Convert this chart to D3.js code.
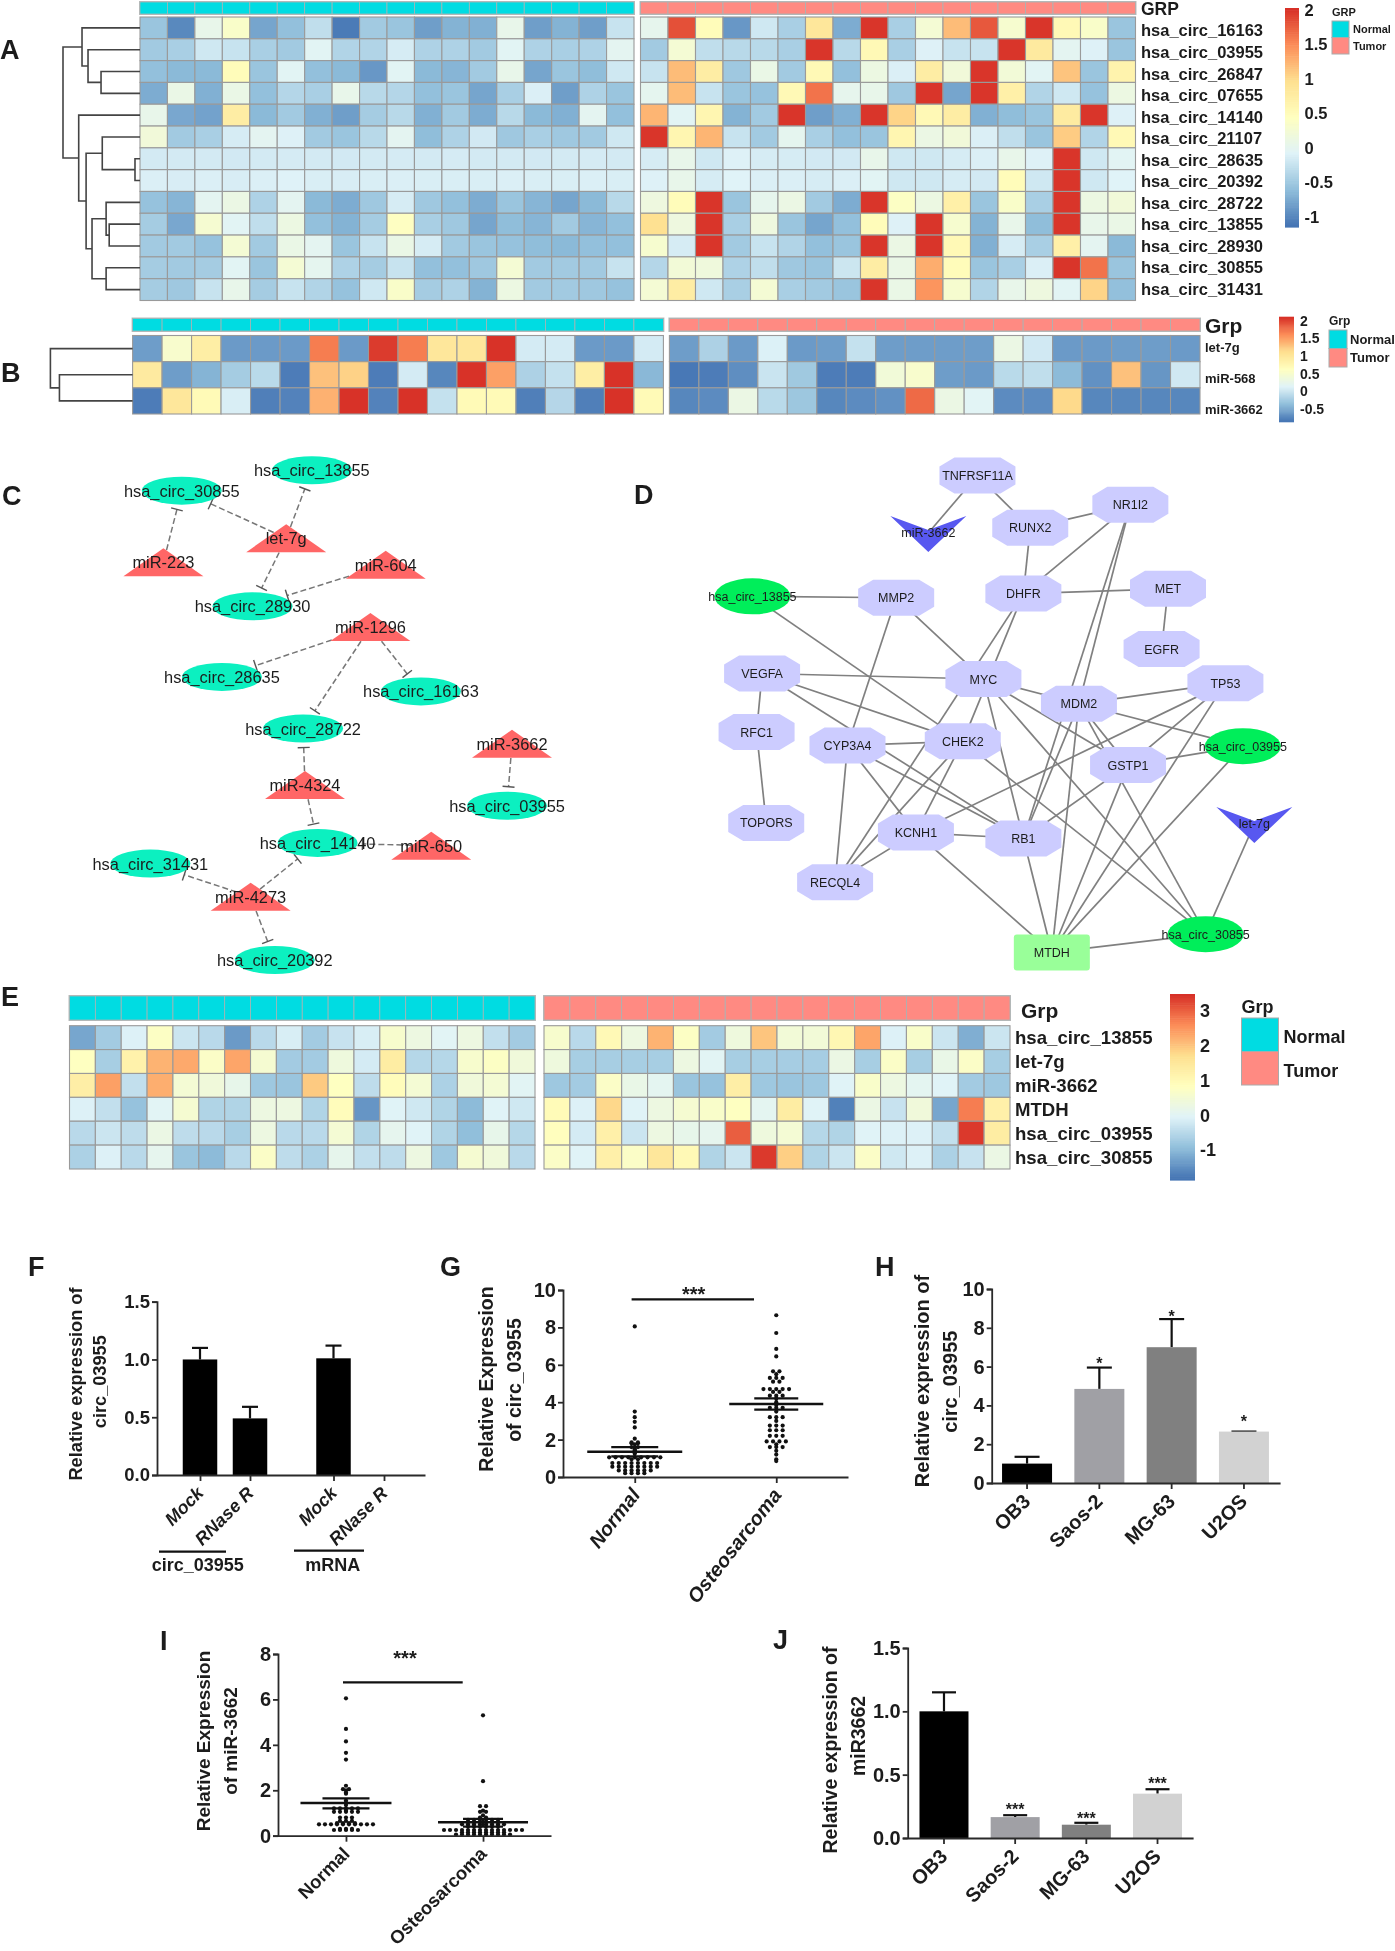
<!DOCTYPE html>
<html><head><meta charset="utf-8">
<script src="https://cdn.jsdelivr.net/npm/d3@7"></script>
<style>
html,body{margin:0;padding:0;background:#fff}
svg{position:absolute;left:0;top:0;filter:blur(0.6px)}
text{font-family:"Liberation Sans",Arial,sans-serif;fill:#1c1c1c}
</style></head><body>
<svg id="c" width="1395" height="1951" viewBox="0 0 1395 1951"></svg>
<script>
/* ---------- Panel A ---------- */
const aRows=["hsa_circ_16163","hsa_circ_03955","hsa_circ_26847","hsa_circ_07655","hsa_circ_14140","hsa_circ_21107","hsa_circ_28635","hsa_circ_20392","hsa_circ_28722","hsa_circ_13855","hsa_circ_28930","hsa_circ_30855","hsa_circ_31431"];
const aNormal=[
[-.55,-1.0,.05,.35,-.8,-.6,-.3,-1.1,-.5,-.55,-.85,-.7,-.72,.05,-.85,-.7,-.85,-.25],
[-.5,-.45,-.2,-.25,-.45,-.5,-.05,-.4,-.4,-.15,-.42,-.42,-.5,-.05,-.42,-.45,-.42,-.02],
[-.6,-.65,-.65,.5,-.55,-.05,-.6,-.65,-.9,-.05,-.65,-.68,-.5,.05,-.8,-.55,-.62,-.2],
[-.75,.08,-.72,.08,-.6,-.38,-.45,.05,-.35,-.38,-.6,-.55,-.8,-.45,-.12,-.85,-.42,-.55],
[.05,-.78,-.82,.75,-.65,-.5,-.72,-.85,-.48,-.35,-.72,-.5,-.75,-.35,-.65,-.72,-.02,-.6],
[.2,-.5,-.45,-.15,-.02,-.1,-.5,-.55,-.35,-.02,-.62,-.42,-.18,-.52,-.45,-.52,-.5,-.2],
[-.17,-.17,-.17,-.18,-.17,-.16,-.17,-.18,-.17,-.16,-.17,-.16,-.17,-.17,-.18,-.17,-.16,-.17],
[-.12,-.14,-.12,-.14,-.12,-.09,-.13,-.14,-.13,-.12,-.13,-.13,-.13,-.12,-.13,-.13,-.12,-.13],
[-.58,-.68,-.02,.1,-.42,-.02,-.65,-.75,-.52,-.15,-.52,-.6,-.75,-.55,-.68,-.8,-.65,-.35],
[-.48,-.78,.28,-.05,-.3,.12,-.6,-.7,-.48,.42,-.45,-.52,-.8,-.62,-.68,-.5,-.68,-.6],
[-.5,-.5,-.58,.25,-.5,.08,-.02,-.55,-.25,.08,-.15,-.5,-.55,-.58,-.62,-.65,-.6,-.6],
[-.48,-.5,-.48,-.05,-.55,.25,0,-.42,-.48,-.25,-.6,-.6,-.52,.25,-.5,-.5,-.5,-.25],
[-.48,-.52,-.25,.05,-.48,-.25,-.4,-.58,-.2,.35,-.48,-.42,-.7,.12,-.5,-.5,-.52,-.58]];
const aTumor=[
[.02,1.85,.5,-.9,-.2,-.45,.85,-.75,2,-.45,.25,1.2,1.8,.3,2,.55,.35,-.55],
[-.5,.25,-.3,-.35,-.35,-.45,2,-.35,.55,-.45,-.1,-.25,-.25,2,.8,-.02,-.1,-.55],
[-.25,1.2,.75,-.52,.08,-.5,.55,-.6,.12,-.12,.75,.2,2,.22,-.05,1.15,-.55,.65],
[0,1.2,-.25,-.55,-.58,.55,1.65,.02,.05,-.52,2,-.8,2,.7,-.4,-.2,-.58,.12],
[1.25,-.05,.6,-.7,-.5,2,-.85,-.72,2,1.05,.55,.75,-.72,-.62,-.55,.78,2,-.1],
[2,.6,1.25,-.25,-.5,0,-.45,-.6,-.55,.6,.1,.2,-.12,-.3,-.55,1.1,-.4,.55],
[-.15,.05,-.2,-.1,-.15,-.15,-.18,-.18,.05,-.2,-.2,-.15,-.12,.05,-.1,2,-.2,-.05],
[-.1,.05,-.15,-.08,-.12,-.12,-.15,-.12,-.05,-.2,-.2,-.15,-.18,.5,-.2,2,-.2,-.08],
[.15,.5,2,-.55,.02,.1,-.5,-.75,2,.4,.12,.7,-.55,.35,-.45,2,.12,.2],
[.95,.15,2,-.45,.15,-.55,-.8,-.6,.5,-.1,2,.3,-.7,.05,-.62,2,.05,.08],
[.3,-.15,2,-.5,-.25,-.4,-.6,-.55,2,.1,2,.55,-.72,-.15,-.45,.7,-.02,-.65],
[-.38,.22,.18,-.42,-.3,-.52,-.55,-.22,.75,.08,1.3,.5,-.55,-.45,-.12,2,1.65,-.55],
[.25,.75,-.2,-.45,.25,-.45,-.5,-.55,2,.08,1.45,.3,-.4,.05,.15,-.05,1.05,-.6]];
const aTicks=[2,1.5,1,.5,0,-.5,-1];
/* dendrogram: [height,left,right]; a leaf is a row index */
const aDendro=[1,[.753,0,[.675,1,[.506,2,3]]],[.796,4,[.70,[.49,5,[.065,6,7]],[.623,[.44,8,[.40,9,10]],[.44,11,12]]]]];

/* ---------- Panel B ---------- */
const bRows=["let-7g","miR-568","miR-3662"];
const bNormal=[
[-.6,.5,.9,-.62,-.62,-.62,1.7,-.62,2.05,1.7,1,1,2.1,.05,.05,-.62,-.62,.05],
[.95,-.6,-.45,-.25,-.12,-.82,1.3,1.2,-.82,.05,-.75,2.1,1.5,-.2,-.05,.9,2.1,-.42],
[-.82,1,.7,.08,-.8,-.78,1.4,2.1,-.78,2.1,-.05,.7,.7,-.8,-.15,-.8,2.1,.7]];
const bTumor=[
[-.6,-.2,-.62,.1,-.62,-.6,-.05,-.6,-.6,-.6,-.6,.3,.03,-.62,-.62,-.6,-.6,-.62],
[-.85,-.82,-.7,-.02,-.28,-.82,-.82,.4,.5,-.6,-.62,-.12,-.08,-.4,-.68,1.3,-.65,.02],
[-.75,-.72,.3,-.12,-.3,-.75,-.72,-.68,1.8,.3,.15,-.72,-.72,1.15,-.75,-.75,-.75,-.75]];
const bTicks=[2,1.5,1,.5,0,-.5];
const bDendro=[1,0,[.89,1,2]];

/* ---------- Panel E ---------- */
const eRows=["hsa_circ_13855","let-7g","miR-3662","MTDH","hsa_circ_03955","hsa_circ_30855"];
const eNormal=[
[-1.25,-.75,-.1,.75,-.3,-.5,-1.4,-.5,-.15,-.75,-.35,-.15,.6,.3,-.02,.3,-.4,-.75],
[.8,-.7,1.2,2.2,2.3,.7,2.35,.55,-.75,-.75,.35,-.2,1.35,-.55,-.55,.6,.75,.4],
[1.3,2.4,-.4,2.25,.5,.4,.15,-.8,-.85,1.95,.8,-.45,.9,.5,-.65,.4,.5,0],
[-.1,-.4,-.9,-.02,.55,-.6,-.6,.3,.3,-.6,.9,-1.45,-.05,-.25,-.6,-1,-.05,-.25],
[-.5,-.3,-.45,.25,-.45,-.5,-.7,.3,-.5,-.5,.5,-.6,.1,-.05,-.6,-.95,.15,-.55],
[-.65,-.1,-.5,.1,-.85,-1,-.5,.7,-.45,-.65,.12,-.4,-.45,.3,-.8,.55,.4,-.5]];
const eTumor=[
[.6,-.5,1,.3,2.2,.75,-.75,.35,2,.45,.45,1.05,2.35,-.1,.65,-.3,-1.15,-.3],
[.35,-.7,-.7,-.7,-.7,.3,0,-.7,-.7,-.72,-.72,.25,-.7,.7,-.7,.2,.7,-.7],
[-.8,-.75,.7,.2,.05,-.85,-.9,1.3,-.8,-.85,-.8,-.05,.65,.3,.05,-.05,-.75,-.8],
[.95,-.1,1.8,-.05,.3,.55,.65,.8,.05,1.35,-.05,-1.7,.25,-.35,.4,-1.25,2.75,1.25],
[.85,-.2,1.25,-.3,.3,.15,.1,3.05,.35,.5,-.55,-.6,-.05,-.1,-.1,-.4,3.4,1.35],
[.7,-.05,1.25,.7,1.5,1,-.6,-.3,3.4,1.9,-.6,-.3,.7,-.25,-.1,-.65,-.35,.25]];
const eTicks=[3,2,1,0,-1];

const groupNames=["Normal","Tumor"];

/* ---------- Panel C network ---------- */
const cEllipses=["hsa_circ_30855","hsa_circ_13855","hsa_circ_28930","hsa_circ_28635","hsa_circ_16163","hsa_circ_28722","hsa_circ_03955","hsa_circ_14140","hsa_circ_31431","hsa_circ_20392"];
const cEllipseX=[475,815,660,580,1100,792,1325,830,393,718];
const cEllipseY=[147,88,483,688,730,838,1062,1170,1230,1510];
const cTriangles=["let-7g","miR-223","miR-604","miR-1296","miR-3662","miR-4324","miR-650","miR-4273"];
const cTriangleX=[748,427,1008,968,1338,797,1127,655];
const cTriangleY=[285,355,362,543,882,1002,1178,1326];
const cEdges=[["miR-223","hsa_circ_30855"],["let-7g","hsa_circ_30855"],["let-7g","hsa_circ_13855"],["let-7g","hsa_circ_28930"],["miR-604","hsa_circ_28930"],["miR-1296","hsa_circ_28635"],["miR-1296","hsa_circ_16163"],["miR-1296","hsa_circ_28722"],["miR-4324","hsa_circ_28722"],["miR-4324","hsa_circ_14140"],["miR-3662","hsa_circ_03955"],["miR-650","hsa_circ_14140"],["miR-4273","hsa_circ_14140"],["miR-4273","hsa_circ_31431"],["miR-4273","hsa_circ_20392"]];

/* ---------- Panel D network ---------- */
const dOctagons=["TNFRSF11A","NR1I2","RUNX2","MET","DHFR","MMP2","EGFR","VEGFA","MYC","TP53","MDM2","RFC1","CHEK2","CYP3A4","GSTP1","TOPORS","KCNH1","RB1","RECQL4"];
const dOctagonX=[822,1155,937,1237,922,645,1223,353,835,1362,1043,341,790,539,1150,362,688,922,512];
const dOctagonY=[103,188,255,432,446,458,607,678,694,706,766,848,875,887,944,1112,1140,1157,1284];
const dCircs=["hsa_circ_13855","hsa_circ_03955","hsa_circ_30855"];
const dCircX=[332,1400,1319];
const dCircY=[454,889,1435];
const dMirs=["miR-3662","let-7g"];
const dMirX=[715,1425];
const dMirY=[270,1115];
const dHub=["MTDH"];
const dHubX=[984];
const dHubY=[1488];
const dEdges=[["TNFRSF11A","miR-3662"],["TNFRSF11A","RUNX2"],["RUNX2","NR1I2"],["RUNX2","DHFR"],["NR1I2","DHFR"],["NR1I2","RB1"],["NR1I2","MDM2"],["DHFR","MET"],["MET","EGFR"],["DHFR","RECQL4"],["DHFR","CHEK2"],["MMP2","hsa_circ_13855"],["MMP2","MYC"],["MMP2","CYP3A4"],["hsa_circ_13855","CHEK2"],["VEGFA","MYC"],["VEGFA","CHEK2"],["VEGFA","RB1"],["VEGFA","RFC1"],["RFC1","TOPORS"],["CYP3A4","CHEK2"],["CYP3A4","KCNH1"],["CYP3A4","RB1"],["CYP3A4","RECQL4"],["CHEK2","RECQL4"],["CHEK2","KCNH1"],["CHEK2","hsa_circ_30855"],["MYC","RB1"],["MYC","MDM2"],["MYC","GSTP1"],["MYC","hsa_circ_30855"],["MDM2","TP53"],["MDM2","GSTP1"],["MDM2","hsa_circ_03955"],["MDM2","MTDH"],["MDM2","RB1"],["MDM2","hsa_circ_30855"],["TP53","GSTP1"],["TP53","KCNH1"],["TP53","MTDH"],["GSTP1","hsa_circ_03955"],["GSTP1","RB1"],["GSTP1","MTDH"],["hsa_circ_03955","MTDH"],["KCNH1","RB1"],["KCNH1","MTDH"],["KCNH1","RECQL4"],["RB1","MTDH"],["MTDH","hsa_circ_30855"],["let-7g","hsa_circ_30855"]];

/* ---------- Panel F ---------- */
const fLabels=["Mock","RNase R","Mock","RNase R"];
const fSlots=[0,1,2.67,3.68];
const fValues=[1.0,.49,1.01,0];
const fUpper=[1.1,.59,1.12,0];
const fTicks=[0,.5,1,1.5];

/* ---------- Panel G ---------- */
const gGroups=["Normal","Osteosarcoma"];
const gNormal=[8.05,3.5,3.2,2.95,2.65,2.05,1.85,1.85,1.8,1.8,1.75,1.6,1.6,1.5,1.45,1.4,1.35,1.3,1.25,1.05,1.05,1.05,1.05,1.05,1.05,1.05,1.05,1.05,.95,.95,.75,.75,.75,.75,.75,.75,.75,.75,.55,.55,.55,.55,.55,.55,.55,.55,.35,.35,.35,.35,.35,.35,.2,.2,.2,.2];
const gTumor=[8.65,7.7,6.85,6.45,5.65,5.65,5.5,5.3,5.3,5.3,5.1,5.1,4.7,4.7,4.7,4.7,4.7,4.55,4.55,4.35,4.35,4.35,4.2,4,3.85,3.7,3.7,3.7,3.5,3.2,3.2,3.2,3,2.75,2.75,2.75,2.5,2.5,2.5,2.2,2.2,2.2,1.9,1.9,1.9,1.9,1.75,1.6,1.6,1.6,1.4,1.2,.95,.85];
const gMean=[1.35,3.9], gSemHi=[1.6,4.2], gSemLo=[1.1,3.6];
const gTicks=[0,2,4,6,8,10];

/* ---------- Panel H ---------- */
const hCells=["OB3","Saos-2","MG-63","U2OS"];
const hValues=[1.0,4.85,7.0,2.65];
const hUpper=[1.35,5.95,8.45,2.65];
const hStars=["","*","*","*"];
const hStarAt=[0,6.33,8.75,3.33];
const hTicks=[0,2,4,6,8,10];

/* ---------- Panel I ---------- */
const iNormal=[6.05,4.7,4.15,3.65,3.35,2.2,2.05,2.05,2,1.9,1.85,1.55,1.45,1.35,1.2,1.2,1.2,1.2,1.2,1.1,1.05,1.05,1.05,1.05,1.05,.8,.8,.8,.65,.65,.65,.55,.55,.55,.55,.5,.5,.5,.5,.5,.5,.5,.5,.5,.5,.3,.3,.3,.25,.25,.25,.25,.25];
const iTumor=[5.3,2.4,1.3,1.3,1.1,1.05,1.05,.9,.8,.8,.7,.7,.7,.7,.7,.7,.6,.6,.6,.6,.6,.6,.5,.5,.5,.5,.5,.5,.5,.5,.4,.4,.4,.4,.4,.4,.25,.25,.25,.25,.25,.25,.25,.25,.25,.25,.25,.25,.25,.25,.15,.15,.15,.15,.15,.15,.15,.15,.05,.05,.05,.05,.05,.05,.05,.05,.05,.05];
const iMean=[1.44,.59], iSemHi=[1.64,.74], iSemLo=[1.2,.4];
const iTicks=[0,2,4,6,8];

/* ---------- Panel J ---------- */
const jValues=[1.0,.165,.105,.35];
const jUpper=[1.15,.18,.12,.385];
const jStars=["","***","***","***"];
const jStarAt=[0,.25,.18,.46];
const jTicks=[0,.5,1,1.5];

/* ---------- Panel letters ---------- */
const letters=["A","B","C","D","E","F","G","H","I","J"];
const letterX=[0,1,2,634,1,28,440,875,160,773];
const letterY=[59,382,505,504,1006,1276,1276,1276,1650,1649];

/* ========== drawing ========== */
const svg=d3.select("#c");
const PAL=["#4575B4","#91BFDB","#E0F3F8","#FFFFBF","#FEE090","#FC8D59","#D73027"];
const rampOf=(lo,hi)=>d3.scaleLinear().domain(d3.range(7).map(i=>lo+i*(hi-lo)/6)).range(PAL).clamp(true);
const CY="#00DCE2", PK="#FF8A82";

function heat(o){
  const g=svg.append("g");
  [[o.normal,o.xN,CY],[o.tumor,o.xT,PK]].forEach(([mat,xr,ann])=>{
    const x=d3.scaleBand().domain(d3.range(18)).range(xr);
    const y=d3.scaleBand().domain(o.rows).range(o.yH);
    g.append("rect").attr("x",xr[0]-1).attr("y",o.yA[0]-1).attr("width",xr[1]-xr[0]+2).attr("height",o.yA[1]-o.yA[0]+2).attr("fill","#bbb");
    g.selectAll(null).data(d3.range(18)).join("rect")
      .attr("x",d=>x(d)).attr("y",o.yA[0]).attr("width",x.bandwidth()).attr("height",o.yA[1]-o.yA[0])
      .attr("fill",ann).attr("stroke","#a9b4b4").attr("stroke-width",.8);
    mat.forEach((row,r)=>{
      g.selectAll(null).data(row).join("rect")
        .attr("x",(d,i)=>x(i)).attr("y",y(o.rows[r])).attr("width",x.bandwidth()).attr("height",y.bandwidth())
        .attr("fill",d=>o.color(d)).attr("stroke","#9a9a9a").attr("stroke-width",1.1);
    });
  });
}
function rowLabels(rows,x,yr,fs){
  const y=d3.scalePoint().domain(rows).range(yr);
  svg.append("g").selectAll("text").data(rows).join("text")
    .attr("x",x).attr("y",d=>y(d)).attr("dy",".36em").attr("font-size",fs).attr("font-weight",700).text(d=>d);
}
function colorBar(o){
  const y=d3.scaleLinear().domain(o.tickRef).range(o.tickPx);
  const top=y.invert(o.yr[0]), bot=y.invert(o.yr[1]);
  const steps=d3.range(100);
  const yb=d3.scaleBand().domain(steps).range(o.yr);
  svg.append("g").selectAll("rect").data(steps).join("rect")
    .attr("x",o.x[0]).attr("width",o.x[1]-o.x[0]).attr("y",d=>yb(d)).attr("height",yb.bandwidth()+.6)
    .attr("fill",d=>o.color(top+(bot-top)*d/99));
  svg.append("g").selectAll("text").data(o.ticks).join("text")
    .attr("x",o.tx).attr("y",d=>y(d)).attr("dy",".36em").attr("font-size",o.fs).attr("font-weight",700).text(d=>d);
}
function legend(o){
  svg.append("text").attr("x",o.x[0]).attr("y",o.titleY).attr("dy",".36em").attr("font-size",o.tfs).attr("font-weight",700).text(o.title);
  const y=d3.scaleBand().domain(groupNames).range(o.y);
  svg.append("g").selectAll("rect").data(groupNames).join("rect")
    .attr("x",o.x[0]).attr("width",o.x[1]-o.x[0]).attr("y",d=>y(d)).attr("height",y.bandwidth())
    .attr("fill",(d,i)=>i?PK:CY).attr("stroke","#aaa").attr("stroke-width",1);
  svg.append("g").selectAll("text").data(groupNames).join("text")
    .attr("x",o.x[1]+o.pad).attr("y",d=>y(d)+y.bandwidth()/2+(o.lift||0)).attr("dy",".36em").attr("font-size",o.fs).attr("font-weight",700).text(d=>d);
}
function dendro(tree,rowY,xScale){
  let d="";
  function walk(n){
    if(typeof n==="number") return {y:rowY(n),x:xScale(0)};
    const a=walk(n[1]), b=walk(n[2]), x=xScale(n[0]), y=(a.y+b.y)/2;
    d+=`M${a.x},${a.y}H${x}V${b.y}H${b.x}`;
    return {x,y};
  }
  walk(tree);
  svg.append("path").attr("d",d).attr("fill","none").attr("stroke","#444").attr("stroke-width",1.6);
}

/* A */
const aColor=rampOf(-1.14,2.03);
const AYH=[17,300.5];
heat({rows:aRows,normal:aNormal,tumor:aTumor,xN:[140,634],xT:[640.5,1135.5],yA:[2,14],yH:AYH,color:aColor});
{const y=d3.scaleBand().domain(d3.range(13)).range(AYH);
 dendro(aDendro,i=>y(i)+y.bandwidth()/2,d3.scaleLinear([0,1],[140,63]));}
rowLabels(aRows,1141,[30.5,289],16.5);
svg.append("text").attr("x",1141).attr("y",9).attr("dy",".36em").attr("font-size",17.5).attr("font-weight",700).text("GRP");
colorBar({x:[1285,1299],yr:[8,227],tickRef:[2,-1],tickPx:[10,217],ticks:aTicks,tx:1304.5,fs:16.5,color:aColor});
legend({title:"GRP",tfs:11,titleY:12,x:[1332,1349],y:[21,54],pad:4,fs:11});

/* B */
const bColor=rampOf(-.87,2.11);
const BYH=[335.5,414];
heat({rows:bRows,normal:bNormal,tumor:bTumor,xN:[132.6,663.4],xT:[669.4,1200],yA:[318.5,331],yH:BYH,color:bColor});
{const y=d3.scaleBand().domain(d3.range(3)).range(BYH);
 dendro(bDendro,i=>y(i)+y.bandwidth()/2,d3.scaleLinear([0,1],[132.6,50.4]));}
rowLabels(bRows,1205,[347,409],13);
svg.append("text").attr("x",1205).attr("y",325).attr("dy",".36em").attr("font-size",21).attr("font-weight",700).text("Grp");
colorBar({x:[1279,1294],yr:[316.7,421.7],tickRef:[2,-.5],tickPx:[320.7,409],ticks:bTicks,tx:1300,fs:14,color:bColor});
legend({title:"Grp",tfs:12,titleY:321,x:[1329,1347],y:[330,367],pad:3,fs:13});

/* E */
const eColor=rampOf(-1.84,3.49);
heat({rows:eRows,normal:eNormal,tumor:eTumor,xN:[69.5,535],xT:[544,1010],yA:[996,1020],yH:[1025.7,1169],color:eColor});
rowLabels(eRows,1015,[1037,1157],18.6);
svg.append("text").attr("x",1021).attr("y",1010).attr("dy",".36em").attr("font-size",21).attr("font-weight",700).text("Grp");
colorBar({x:[1170,1195],yr:[994,1180],tickRef:[3,-1],tickPx:[1011,1150],ticks:eTicks,tx:1200,fs:18,color:eColor});
legend({title:"Grp",tfs:18,titleY:1007,x:[1241.5,1278.5],y:[1018,1085],pad:5,fs:18,lift:2});

/* C */
{
  const X=d3.scaleLinear([0,1568],[0,600]), Y=d3.scaleLinear([0,1568],[440,980]);
  const pos={};
  cEllipses.forEach((n,i)=>pos[n]={x:X(cEllipseX[i]),y:Y(cEllipseY[i])});
  cTriangles.forEach((n,i)=>pos[n]={x:X(cTriangleX[i]),y:Y(cTriangleY[i])});
  const RX=40,RY=14,HW=40,HH=14;
  const inTri=(p,c)=>{const t=c.y-HH,b=c.y+HH;return p.y>=t&&p.y<=b&&Math.abs(p.x-c.x)<=HW*(p.y-t)/(b-t);};
  const segs=cEdges.map(([s,t])=>{
    const S=pos[s],T=pos[t],dx=T.x-S.x,dy=T.y-S.y,L=Math.hypot(dx,dy);
    const f=1/Math.hypot(dx/RX,dy/RY);
    const k=1-f-5/L; let u=0;
    while(u<1&&inTri({x:S.x+dx*u,y:S.y+dy*u},S))u+=.005;
    return {x1:S.x+dx*u,y1:S.y+dy*u,x2:S.x+dx*k,y2:S.y+dy*k,nx:-dy/L,ny:dx/L};
  });
  const g=svg.append("g");
  g.selectAll("line.e").data(segs).join("line").attr("class","e")
    .attr("x1",d=>d.x1).attr("y1",d=>d.y1).attr("x2",d=>d.x2).attr("y2",d=>d.y2)
    .attr("stroke","#777").attr("stroke-width",1.5).attr("stroke-dasharray","6 3");
  g.selectAll("line.b").data(segs).join("line").attr("class","b")
    .attr("x1",d=>d.x2-d.nx*6).attr("y1",d=>d.y2-d.ny*6).attr("x2",d=>d.x2+d.nx*6).attr("y2",d=>d.y2+d.ny*6)
    .attr("stroke","#555").attr("stroke-width",1.4);
  g.selectAll("polygon").data(cTriangles).join("polygon")
    .attr("points",n=>{const c=pos[n];return [[c.x,c.y-HH],[c.x+HW,c.y+HH],[c.x-HW,c.y+HH]].join(" ");})
    .attr("fill","#FF6666");
  g.selectAll("ellipse").data(cEllipses).join("ellipse")
    .attr("cx",n=>pos[n].x).attr("cy",n=>pos[n].y).attr("rx",RX).attr("ry",RY).attr("fill","#0CF0C0");
  g.selectAll("text").data([...cEllipses,...cTriangles]).join("text")
    .attr("x",n=>pos[n].x).attr("y",n=>pos[n].y).attr("dy",".36em").attr("text-anchor","middle")
    .attr("font-size",16.4).text(n=>n);
}

/* D */
{
  const X=d3.scaleLinear([0,1568],[600,1320]), Y=d3.scaleLinear([0,1568],[440,980]);
  const pos={};
  dOctagons.forEach((n,i)=>pos[n]={x:X(dOctagonX[i]),y:Y(dOctagonY[i])});
  dCircs.forEach((n,i)=>pos[n]={x:X(dCircX[i]),y:Y(dCircY[i])});
  dMirs.forEach((n,i)=>pos[n]={x:X(dMirX[i]),y:Y(dMirY[i])});
  dHub.forEach((n,i)=>pos[n]={x:X(dHubX[i]),y:Y(dHubY[i])});
  const g=svg.append("g");
  g.selectAll("line").data(dEdges).join("line")
    .attr("x1",d=>pos[d[0]].x).attr("y1",d=>pos[d[0]].y).attr("x2",d=>pos[d[1]].x).attr("y2",d=>pos[d[1]].y)
    .attr("stroke","#808080").attr("stroke-width",1.7);
  const w=38,h=18,cx=15,cy=9;
  g.selectAll("polygon.o").data(dOctagons).join("polygon").attr("class","o")
    .attr("points",n=>{const c=pos[n];return [[-w+cx,-h],[w-cx,-h],[w,-h+cy],[w,h-cy],[w-cx,h],[-w+cx,h],[-w,h-cy],[-w,-h+cy]].map(p=>[c.x+p[0],c.y+p[1]]).join(" ");})
    .attr("fill","#CCCCFF");
  g.selectAll("ellipse").data(dCircs).join("ellipse")
    .attr("cx",n=>pos[n].x).attr("cy",n=>pos[n].y).attr("rx",38).attr("ry",18).attr("fill","#00EE5A");
  g.selectAll("polygon.m").data(dMirs).join("polygon").attr("class","m")
    .attr("points",n=>{const c=pos[n];return [[-38,-17],[0,-3],[38,-17],[0,19]].map(p=>[c.x+p[0],c.y+p[1]]).join(" ");})
    .attr("fill","#5858F0");
  g.selectAll("rect").data(dHub).join("rect")
    .attr("x",n=>pos[n].x-38).attr("y",n=>pos[n].y-18).attr("width",76).attr("height",36).attr("rx",3).attr("fill","#99FF99");
  g.selectAll("text").data([...dOctagons,...dCircs,...dMirs,...dHub]).join("text")
    .attr("x",n=>pos[n].x).attr("y",n=>pos[n].y).attr("dy",".36em").attr("text-anchor","middle")
    .attr("font-size",12.5).text(n=>n);
}

/* shared chart pieces */
function styleAxis(g,fs,w){
  g.selectAll("path.domain,line").attr("stroke","#2a2a2a").attr("stroke-width",w||1.8);
  g.selectAll("text").attr("font-size",fs).attr("font-weight",700).attr("fill","#1c1c1c");
}
function yTitle(lines,xs,ys,fs){
  svg.append("g").selectAll("text").data(lines).join("text")
    .attr("transform",(d,i)=>`translate(${xs[i]},${ys[i]}) rotate(-90)`)
    .attr("text-anchor","middle").attr("dy",".36em").attr("font-size",fs).attr("font-weight",700).attr("fill","#2a2a2a").text(d=>d);
}
function yAxis(y,x,ticks,fmt,fs){
  const g=svg.append("g").attr("transform",`translate(${x},0)`)
    .call(d3.axisLeft(y).tickValues(ticks).tickFormat(fmt).tickSize(5).tickPadding(2));
  styleAxis(g,fs);
}
function xAxis(axis,yPx,fs,italic,angle){
  const g=svg.append("g").attr("transform",`translate(0,${yPx})`).call(axis.tickSize(6).tickSizeOuter(0));
  styleAxis(g,fs);
  g.selectAll("text").attr("text-anchor","end").attr("dy",".3em")
    .attr("font-style",italic?"italic":"normal")
    .attr("transform",`translate(-6,9) rotate(${angle||-45})`);
}
function bars(xs,w,y,vals,upper,fills,cap){
  const g=svg.append("g");
  g.selectAll("line.s").data(vals).join("line").attr("class","s")
    .attr("x1",(d,i)=>xs(i)).attr("x2",(d,i)=>xs(i)).attr("y1",d=>y(d)).attr("y2",(d,i)=>y(upper[i]))
    .attr("stroke","#111").attr("stroke-width",2.2);
  g.selectAll("line.c").data(upper).join("line").attr("class","c")
    .attr("x1",(d,i)=>xs(i)-cap/2).attr("x2",(d,i)=>xs(i)+cap/2).attr("y1",d=>y(d)).attr("y2",d=>y(d))
    .attr("stroke","#111").attr("stroke-width",2.2).attr("display",(d,i)=>vals[i]>0?null:"none");
  g.selectAll("rect").data(vals).join("rect")
    .attr("x",(d,i)=>xs(i)-w/2).attr("width",w).attr("y",d=>y(d)).attr("height",d=>y(0)-y(d))
    .attr("fill",(d,i)=>fills[i]);
}
function swarm(vals,cx,y,step){
  const byV=d3.group(vals,v=>v), pts=[];
  byV.forEach((arr,v)=>arr.forEach((_,i)=>pts.push({v,off:(i-(arr.length-1)/2)*step})));
  svg.append("g").selectAll("circle").data(pts).join("circle")
    .attr("cx",d=>cx+d.off).attr("cy",d=>y(d.v)).attr("r",2.1).attr("fill","#111");
}
function stats(cx,y,mean,hi,lo,mw,sw){
  const g=svg.append("g").attr("stroke","#111");
  g.append("line").attr("x1",cx-mw/2).attr("x2",cx+mw/2).attr("y1",y(mean)).attr("y2",y(mean)).attr("stroke-width",2.4);
  [hi,lo].forEach(v=>g.append("line").attr("x1",cx-sw/2).attr("x2",cx+sw/2).attr("y1",y(v)).attr("y2",y(v)).attr("stroke-width",2.2));
  g.append("line").attr("x1",cx).attr("x2",cx).attr("y1",y(lo)).attr("y2",y(hi)).attr("stroke-width",2);
}
function stars(txt,x,yCenter,fs){
  svg.append("text").attr("x",x).attr("y",yCenter+.55*fs).attr("text-anchor","middle").attr("font-size",fs).attr("font-weight",700).text(txt);
}

/* F */
{
  const y=d3.scaleLinear([0,1.5],[1475,1301.7]);
  const x=d3.scaleLinear([-.86,4.5],[157,425]);
  bars(i=>x(fSlots[i]),34.5,y,fValues,fUpper,["#000","#000","#000","#000"],16);
  yAxis(y,157,fTicks,d3.format(".1f"),18.5);
  xAxis(d3.axisBottom(x).tickValues(fSlots).tickFormat(s=>fLabels[fSlots.indexOf(s)]),1475,18,true);
  yTitle(["Relative expression of","circ_03955"],[75,99.5],[1384,1381.7],18.2);
  const u=svg.append("g").attr("stroke","#111").attr("stroke-width",2.2);
  u.append("line").attr("x1",159).attr("x2",226).attr("y1",1551.7).attr("y2",1551.7);
  u.append("line").attr("x1",294).attr("x2",364).attr("y1",1550.7).attr("y2",1550.7);
  svg.append("text").attr("x",197.7).attr("y",1565).attr("dy",".36em").attr("text-anchor","middle").attr("font-size",18).attr("font-weight",700).text("circ_03955");
  svg.append("text").attr("x",332.7).attr("y",1565).attr("dy",".36em").attr("text-anchor","middle").attr("font-size",18).attr("font-weight",700).text("mRNA");
}

/* G */
{
  const y=d3.scaleLinear([0,10],[1477,1290]);
  const x=d3.scalePoint().domain(gGroups).range([563,848]).padding(.507);
  swarm(gNormal,x("Normal"),y,6.4); swarm(gTumor,x("Osteosarcoma"),y,6.4);
  stats(x("Normal"),y,gMean[0],gSemHi[0],gSemLo[0],95,47);
  stats(x("Osteosarcoma"),y,gMean[1],gSemHi[1],gSemLo[1],94,44);
  yAxis(y,563,gTicks,d3.format("d"),20);
  xAxis(d3.axisBottom(x),1477,20,true,-52);
  yTitle(["Relative Expression","of circ_03955"],[486,513.7],[1379,1380],19.5);
  svg.append("line").attr("x1",631.6).attr("x2",754).attr("y1",y(9.5)).attr("y2",y(9.5)).attr("stroke","#111").attr("stroke-width",2.2);
  stars("***",693.6,1290,20);
}

/* H */
{
  const y=d3.scaleLinear([0,10],[1483,1289]);
  const x=d3.scaleBand().domain(hCells).range([990.9,1280.1]).paddingInner(.31).paddingOuter(.155);
  const xs=i=>x(hCells[i])+x.bandwidth()/2;
  bars(xs,50,y,hValues,hUpper,["#000","#A0A0A5","#808080","#D2D2D2"],25);
  yAxis(y,991.7,hTicks,d3.format("d"),20);
  xAxis(d3.axisBottom(x),1483,20,false);
  yTitle(["Relative expression of","circ_03955"],[922,950],[1381,1381.7],20);
  hStars.forEach((s,i)=>{ if(s) stars(s,xs(i),y(hStarAt[i]),16); });
}

/* I */
{
  const y=d3.scaleLinear([0,8],[1835.7,1654]);
  const x=d3.scalePoint().domain(gGroups).range([278,551]).padding(.496);
  swarm(iNormal,x("Normal"),y,6); swarm(iTumor,x("Osteosarcoma"),y,6);
  stats(x("Normal"),y,iMean[0],iSemHi[0],iSemLo[0],91,47);
  stats(x("Osteosarcoma"),y,iMean[1],iSemHi[1],iSemLo[1],90,40);
  yAxis(y,278,iTicks,d3.format("d"),20);
  xAxis(d3.axisBottom(x),1835.7,18.5,false);
  yTitle(["Relative Expression","of miR-3662"],[203,230],[1741,1741],19);
  svg.append("line").attr("x1",343).attr("x2",462.7).attr("y1",y(6.75)).attr("y2",y(6.75)).attr("stroke","#111").attr("stroke-width",2.2);
  stars("***",405,1654,20);
}

/* J */
{
  const y=d3.scaleLinear([0,1.5],[1838,1648]);
  const x=d3.scaleBand().domain(hCells).range([908.4,1193.1]).paddingInner(.31).paddingOuter(.155);
  const xs=i=>x(hCells[i])+x.bandwidth()/2;
  bars(xs,49,y,jValues,jUpper,["#000","#A0A0A5","#808080","#D2D2D2"],24);
  yAxis(y,907.7,jTicks,d3.format(".1f"),20);
  xAxis(d3.axisBottom(x),1838,20,false);
  yTitle(["Relative expression of","miR3662"],[830,857.7],[1750,1736],19.5);
  jStars.forEach((s,i)=>{ if(s) stars(s,xs(i),y(jStarAt[i]),16); });
}

/* letters */
svg.append("g").selectAll("text").data(letters).join("text")
  .attr("x",(d,i)=>letterX[i]).attr("y",(d,i)=>letterY[i]).attr("font-size",27).attr("font-weight",700).attr("fill","#000").text(d=>d);
</script>
</body></html>
